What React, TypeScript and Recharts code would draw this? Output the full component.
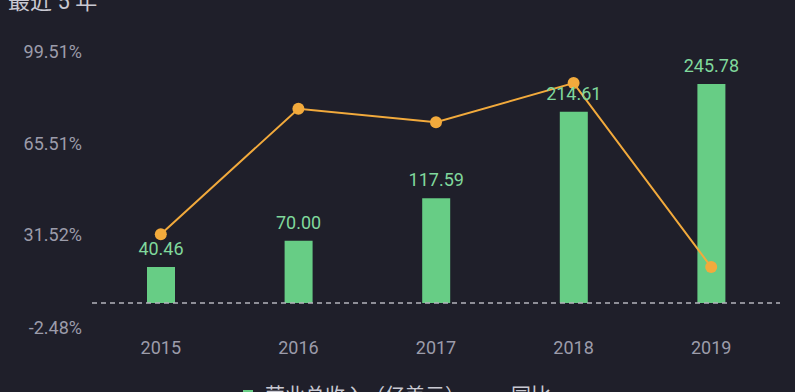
import { ComposedChart, Bar, Line, XAxis, YAxis, ReferenceLine, LabelList } from 'recharts';

const years = ['2015', '2016', '2017', '2018', '2019'];
const revenue = [40.46, 70.0, 117.59, 214.61, 245.78];
const yoy = [26.6, 73.0, 68.0, 82.5, 14.5];
const pctTicks = [-2.48, 31.52, 65.51, 99.51];

const data = years.map((year, i) => ({ year, revenue: revenue[i], yoy: yoy[i] }));

const BG = '#1f1f2a';
const GREEN = '#67cd85';
const LABEL_GREEN = '#80d89c';
const ORANGE = '#f2aa3c';
const AXIS_TEXT = '#9c9caa';
const FONT = 'Roboto, "Noto Sans CJK SC", sans-serif';

// labels sit a little below their tick, right-aligned against the plot
function PctTick(props: any) {
  const { y, payload } = props;
  return (
    <text x={82} y={y + 14} textAnchor="end" dominantBaseline="central" fill={AXIS_TEXT} fontSize={18} fontFamily={FONT}>
      {payload.value.toFixed(2) + '%'}
    </text>
  );
}

function YearTick(props: any) {
  const { x, y, payload } = props;
  return (
    <text x={x} y={y + 26} textAnchor="middle" dominantBaseline="central" fill={AXIS_TEXT} fontSize={18} fontFamily={FONT}>
      {payload.value}
    </text>
  );
}

export default function App() {
  return (
    <div style={{ position: 'fixed', left: 0, top: 0, width: 795, height: 392, background: BG, overflow: 'hidden', fontFamily: FONT }}>
      <div style={{ position: 'absolute', left: 8, top: -17, fontSize: 22, color: '#c9c9d2', whiteSpace: 'pre' }}>最近 5 年</div>
      <ComposedChart width={795} height={392} data={data} margin={{ top: 37, right: 15, bottom: 49, left: 0 }}>
        <XAxis dataKey="year" axisLine={false} tickLine={false} height={30} tick={<YearTick />} />
        <YAxis
          yAxisId="pct"
          orientation="left"
          width={92}
          domain={[-2.48, 99.51]}
          ticks={pctTicks}
          axisLine={false}
          tickLine={false}
          tick={<PctTick />}
        />
        <YAxis yAxisId="bar" hide domain={[-11.2, 298.5]} />
        <ReferenceLine yAxisId="bar" y={0} stroke="#b4b4bc" strokeDasharray="5 4" strokeWidth={1.5} />
        <Bar yAxisId="bar" dataKey="revenue" fill={GREEN} barSize={28} isAnimationActive={false}>
          <LabelList
            dataKey="revenue"
            position="top"
            offset={12}
            fill={LABEL_GREEN}
            fontSize={18}
            fontFamily={FONT}
            formatter={(v: any) => Number(v).toFixed(2)}
          />
        </Bar>
        <Line
          yAxisId="pct"
          dataKey="yoy"
          stroke={ORANGE}
          strokeWidth={2}
          dot={{ r: 6, fill: ORANGE, stroke: 'none' }}
          activeDot={false}
          isAnimationActive={false}
        />
      </ComposedChart>
      <div style={{ position: 'absolute', left: 243, top: 380, display: 'flex', alignItems: 'center', fontSize: 20, color: '#c9c9d2', whiteSpace: 'nowrap' }}>
        <span style={{ display: 'inline-block', width: 10, height: 10, background: GREEN, marginRight: 12 }} />
        <span>营业总收入（亿美元）</span>
        <span style={{ display: 'inline-block', width: 12, height: 3, background: ORANGE, marginLeft: 22, marginRight: 12 }} />
        <span>同比</span>
      </div>
    </div>
  );
}
